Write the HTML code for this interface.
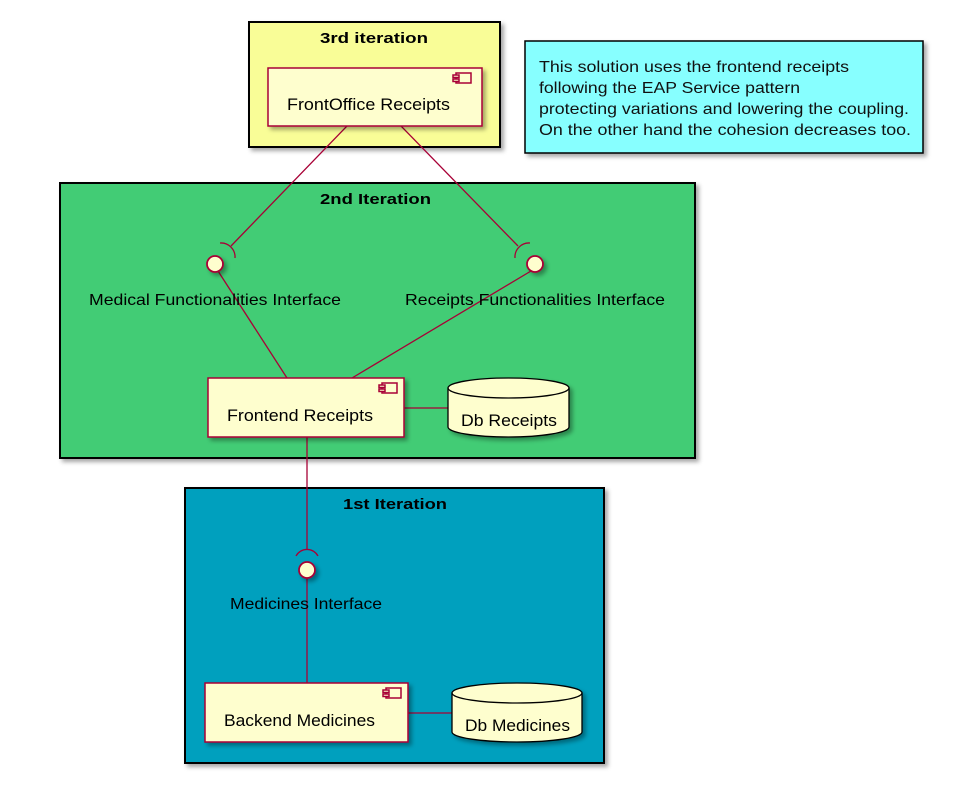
<!DOCTYPE html>
<html><head><meta charset="utf-8"><style>
html,body{margin:0;padding:0;background:#fff;}
svg{display:block;}
text{font-family:"Liberation Sans",sans-serif;}
</style></head><body>
<svg width="972" height="790" viewBox="0 0 972 790" xmlns="http://www.w3.org/2000/svg">
<defs>
<filter id="sh" x="-10%" y="-10%" width="130%" height="130%"><feDropShadow dx="3" dy="3" stdDeviation="2" flood-color="#000" flood-opacity="0.35"/></filter>
</defs>
<rect x="249" y="22" width="251" height="125" fill="#F9FD97" stroke="#000" stroke-width="2" filter="url(#sh)"/>
<text x="320" y="43" font-size="15" font-weight="bold" textLength="108" lengthAdjust="spacingAndGlyphs">3rd iteration</text>
<rect x="525" y="41" width="398" height="112" fill="#87FFFF" stroke="#000" stroke-width="1.5" filter="url(#sh)"/>
<g font-size="16" fill="#111">
<text x="539" y="72" textLength="310" lengthAdjust="spacingAndGlyphs">This solution uses the frontend receipts</text>
<text x="539" y="93" textLength="261" lengthAdjust="spacingAndGlyphs">following the EAP Service pattern</text>
<text x="539" y="114" textLength="370" lengthAdjust="spacingAndGlyphs">protecting variations and lowering the coupling.</text>
<text x="539" y="135" textLength="372" lengthAdjust="spacingAndGlyphs">On the other hand the cohesion decreases too.</text>
</g>
<rect x="60" y="183" width="635" height="275" fill="#43CC74" stroke="#000" stroke-width="2" filter="url(#sh)"/>
<text x="320" y="204" font-size="15" font-weight="bold" textLength="111" lengthAdjust="spacingAndGlyphs">2nd Iteration</text>
<rect x="185" y="488" width="419" height="275" fill="#00A0BE" stroke="#000" stroke-width="2" filter="url(#sh)"/>
<text x="343" y="509" font-size="15" font-weight="bold" textLength="104" lengthAdjust="spacingAndGlyphs">1st Iteration</text>

<g stroke="#A80036" stroke-width="1.3" fill="none">
<line x1="347" y1="126" x2="231" y2="246"/>
<line x1="401" y1="126" x2="518" y2="246"/>
<path d="M220,243 A14,14 0 0 1 235,258"/>
<path d="M530,243 A14,14 0 0 0 515,258"/>
<line x1="218" y1="271" x2="287" y2="378"/>
<line x1="531" y1="271" x2="352" y2="378"/>
<line x1="307" y1="437" x2="307" y2="549"/>
<path d="M296,556 A12.5,12.5 0 0 1 318,556"/>
<line x1="307" y1="578" x2="307" y2="683"/>
<line x1="404" y1="408" x2="448" y2="408"/>
<line x1="408" y1="713" x2="452" y2="713"/>
</g>

<g fill="#FEFECE" stroke="#A80036" stroke-width="1.8" filter="url(#sh)">
<circle cx="215" cy="264" r="8"/>
<circle cx="535" cy="264" r="8"/>
<circle cx="307" cy="570" r="8"/>
</g>
<g font-size="16">
<text x="89" y="305" textLength="252" lengthAdjust="spacingAndGlyphs">Medical Functionalities Interface</text>
<text x="405" y="305" textLength="260" lengthAdjust="spacingAndGlyphs">Receipts Functionalities Interface</text>
<text x="230" y="609" textLength="152" lengthAdjust="spacingAndGlyphs">Medicines Interface</text>
</g>

<g fill="#FEFECE" stroke="#A80036" stroke-width="1.5">
<rect x="268" y="68" width="214" height="58" filter="url(#sh)"/>
<rect x="208" y="378" width="196" height="59" filter="url(#sh)"/>
<rect x="205" y="683" width="203" height="59" filter="url(#sh)"/>
<rect x="456" y="73" width="15" height="10"/><rect x="453" y="75" width="6" height="2.5"/><rect x="453" y="79" width="6" height="2.5"/>
<rect x="382" y="383" width="15" height="10"/><rect x="379" y="385" width="6" height="2.5"/><rect x="379" y="389" width="6" height="2.5"/>
<rect x="386" y="688" width="15" height="10"/><rect x="383" y="690" width="6" height="2.5"/><rect x="383" y="694" width="6" height="2.5"/>
</g>
<g font-size="17">
<text x="287" y="110" textLength="163" lengthAdjust="spacingAndGlyphs">FrontOffice Receipts</text>
<text x="227" y="421" textLength="146" lengthAdjust="spacingAndGlyphs">Frontend Receipts</text>
<text x="224" y="726" textLength="151" lengthAdjust="spacingAndGlyphs">Backend Medicines</text>
</g>

<g fill="#FEFECE" stroke="#000" stroke-width="1.3" filter="url(#sh)">
<path d="M448,388 L448,427 A60.5,10 0 0 0 569,427 L569,388 A60.5,10 0 0 0 448,388 Z"/>
<path d="M452,693 L452,732 A65,10 0 0 0 582,732 L582,693 A65,10 0 0 0 452,693 Z"/>
</g>
<g fill="none" stroke="#000" stroke-width="1.3">
<path d="M448,388 A60.5,10 0 0 0 569,388"/>
<path d="M452,693 A65,10 0 0 0 582,693"/>
</g>
<g font-size="17">
<text x="461" y="426" textLength="96" lengthAdjust="spacingAndGlyphs">Db Receipts</text>
<text x="465" y="731" textLength="105" lengthAdjust="spacingAndGlyphs">Db Medicines</text>
</g>
</svg>
</body></html>
